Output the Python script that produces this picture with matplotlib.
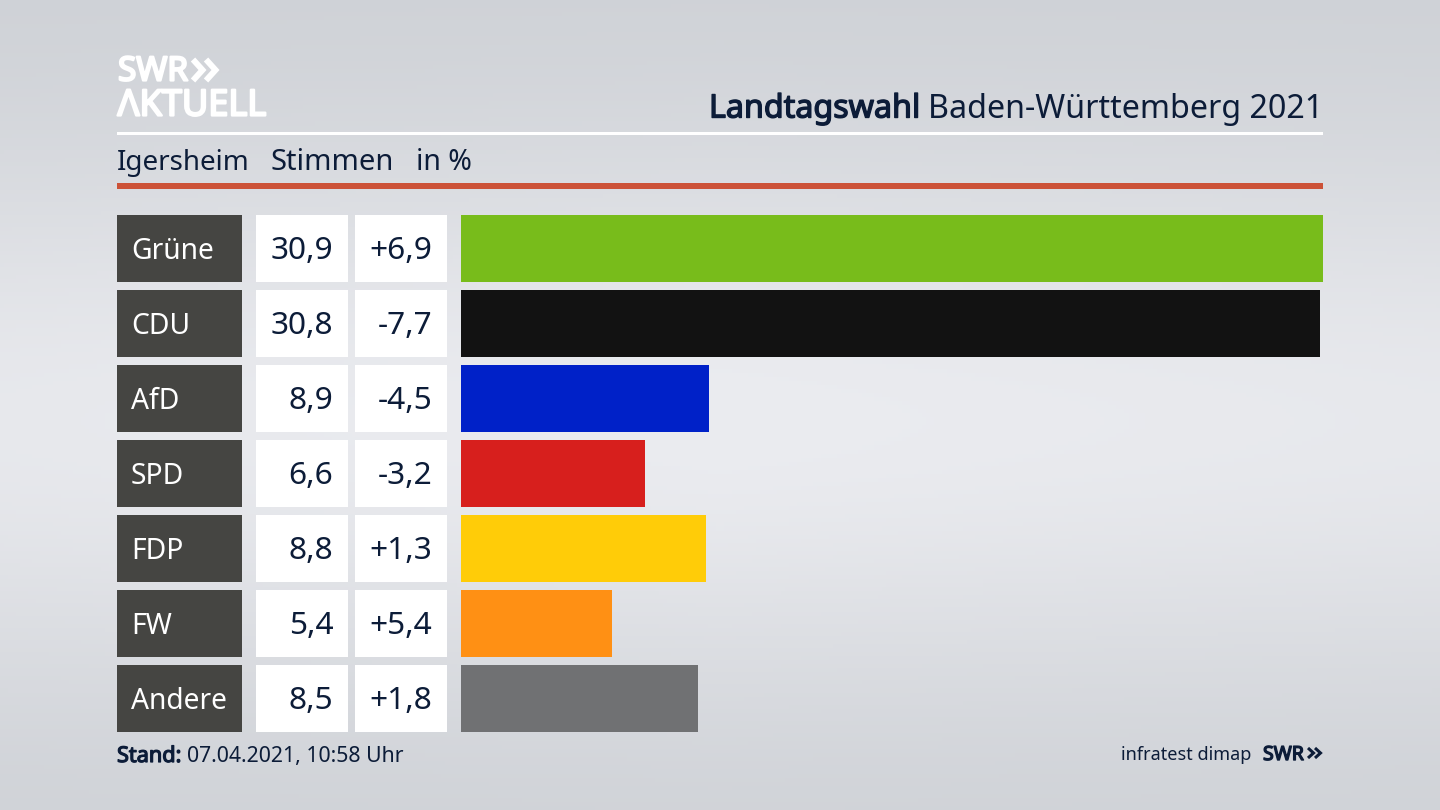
import numpy as np
import matplotlib
matplotlib.use("Agg")
import matplotlib.pyplot as plt
import matplotlib.patheffects as pe
from matplotlib.patches import Rectangle

plt.rcParams["font.family"] = ["Noto Sans", "DejaVu Sans"]

parties = ["Grüne", "CDU", "AfD", "SPD", "FDP", "FW", "Andere"]
shares = [30.9, 30.8, 8.9, 6.6, 8.8, 5.4, 8.5]
share_labels = ["30,9", "30,8", "8,9", "6,6", "8,8", "5,4", "8,5"]
change_labels = ["+6,9", "-7,7", "-4,5", "-3,2", "+1,3", "+5,4", "+1,8"]
bar_colors = ["#78bc1b", "#121212", "#0021c8", "#d71f1d", "#ffcc08", "#ff9014", "#707173"]

navy = "#0c1c38"
W, H = 1440, 810

fig = plt.figure(figsize=(14.4, 8.1), dpi=100)

# page in pixel coordinates, y going down
page = fig.add_axes([0, 0, 1, 1])
page.set_xlim(0, W)
page.set_ylim(H, 0)
page.axis("off")

# soft light band through the middle of the background
yy, xx = np.mgrid[0:1:200j, 0:1:356j]
glow = np.exp(-((yy - 0.52) / 0.34) ** 2) * (1 - 0.25 * np.abs(xx - 0.5))
dark = np.array([205, 208, 213]) / 255
light = np.array([235, 236, 240]) / 255
bg = dark + (light - dark) * glow[..., None]
page.imshow(bg, extent=(0, W, H, 0), aspect="auto", zorder=0)


def bold_text(x, y, s, color, size, ha="left", stroke=1.0):
    # Noto Sans comes without a usable bold here, so thicken the outline
    t = page.text(x, y, s, color=color, fontsize=size, va="center", ha=ha, zorder=3)
    t.set_path_effects([pe.withStroke(linewidth=stroke, foreground=color)])
    return t


def chevrons(x, y, half_h, depth, gap, lw, color):
    for dx in (0, gap):
        page.plot([x + dx, x + dx + depth, x + dx], [y - half_h, y, y + half_h],
                  color=color, lw=lw, solid_joinstyle="miter", solid_capstyle="butt", zorder=3)


# logo
bold_text(118, 72, "SWR", "white", 24, stroke=1.6)
chevrons(193, 70, 10.5, 9.5, 13, 4.3, "white")
bold_text(117.5, 106.5, "ΛKTUELL", "white", 26, stroke=1.6)

# title
bold_text(920.5, 109, "Landtagswahl", navy, 23.2, ha="right", stroke=1.0)
page.text(1323.5, 109, "Baden-Württemberg 2021", color=navy, fontsize=23.2, va="center", ha="right")

# header rules
page.add_patch(Rectangle((117, 132), 1206, 3, color="white", lw=0, zorder=2))
page.add_patch(Rectangle((117, 183), 1206, 6, color="#cc5238", lw=0, zorder=2))

# sub header
page.text(117, 163, "Igersheim", color=navy, fontsize=20, va="center", ha="left")
page.text(271, 163, "Stimmen", color=navy, fontsize=21, va="center", ha="left")
page.text(415.5, 163, "in %", color=navy, fontsize=20.5, va="center", ha="left")

# table cells left of the bars
row_top = 215
row_step = 74.95
row_h = 66.8
for i, party in enumerate(parties):
    top = row_top + i * row_step
    mid = top + row_h / 2 + 3
    page.add_patch(Rectangle((117, top), 124.5, row_h, color="#454542", lw=0, zorder=2))
    page.add_patch(Rectangle((256, top), 92, row_h, color="white", lw=0, zorder=2))
    page.add_patch(Rectangle((355, top), 92, row_h, color="white", lw=0, zorder=2))
    page.text(131, mid, party, color="white", fontsize=20.3, va="center", ha="left", zorder=3)
    page.text(333.5, mid, share_labels[i], color=navy, fontsize=22.8, va="center", ha="right", zorder=3)
    page.text(432.5, mid, change_labels[i], color=navy, fontsize=22.8, va="center", ha="right", zorder=3)

# bars, the longest one fills the whole axes width
bars_left, bars_right = 461, 1323
bars_top = row_top
bars_bottom = row_top + 6 * row_step + row_h
ax = fig.add_axes([bars_left / W, 1 - bars_bottom / H,
                   (bars_right - bars_left) / W, (bars_bottom - bars_top) / H])
ax.patch.set_alpha(0)
ax.barh(range(len(parties)), shares, height=row_h / row_step, color=bar_colors)
ax.set_xlim(0, max(shares))
ax.set_ylim(6 + row_h / row_step / 2, -row_h / row_step / 2)
ax.axis("off")

# footer
bold_text(117, 756.5, "Stand:", navy, 15.6, stroke=0.9)
page.text(187, 756.5, "07.04.2021, 10:58 Uhr", color=navy, fontsize=15.3, va="center", ha="left")
page.text(1251, 755.5, "infratest dimap", color=navy, fontsize=13, va="center", ha="right")
bold_text(1263, 755, "SWR", navy, 14, stroke=1.0)
chevrons(1308, 753, 5, 5.5, 7, 2.2, navy)

fig.savefig("out.png", dpi=100)
